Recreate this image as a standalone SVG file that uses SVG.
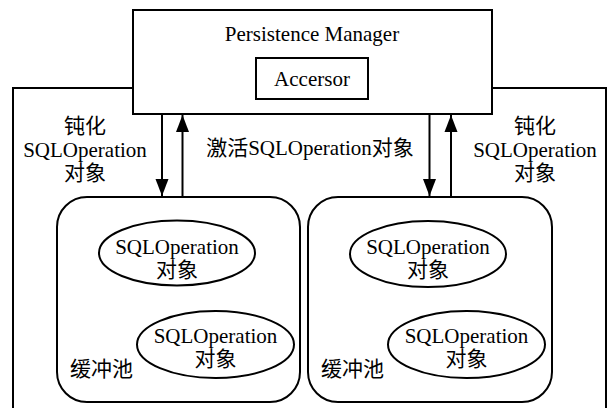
<svg xmlns="http://www.w3.org/2000/svg" width="607" height="408" viewBox="0 0 607 408">
  <style>
    .box { fill: #fff; stroke: #000; stroke-width: 2; }
    .pool { fill: #fff; stroke: #000; stroke-width: 2; }
    .obj { fill: none; stroke: #000; stroke-width: 2; }
    .line { fill: none; stroke: #000; stroke-width: 2; }
    text { font-family: "Liberation Serif", "Noto Sans CJK SC", serif; font-size: 21px; fill: #000; text-anchor: middle; }
    .start { text-anchor: start; }
  </style>
  <defs>
    <marker id="arrow" markerUnits="userSpaceOnUse" markerWidth="17" markerHeight="14" viewBox="0 0 17 14" refX="17" refY="7" orient="auto">
      <path d="M0,0.5 L17,7 L0,13.5 Z"/>
    </marker>
  </defs>

  <!-- enclosing frame -->
  <g id="frame">
    <polyline class="line" points="13,408 13,88 133,88"/>
    <polyline class="line" points="492,88 606,88 606,408"/>
  </g>

  <g id="persistence-manager">
    <rect class="box" x="133" y="10" width="359" height="104"/>
    <text x="312" y="41">Persistence Manager</text>
  </g>

  <g id="accersor">
    <rect class="box" x="256" y="58" width="112" height="41"/>
    <text x="312" y="86">Accersor</text>
  </g>

  <g id="pool-left">
    <rect class="pool" x="57" y="197" width="243" height="205" rx="30" ry="30"/>
    <text class="start" x="70" y="376">缓冲池</text>
  </g>
  <g id="obj-left-1">
    <ellipse class="obj" cx="177" cy="253" rx="78" ry="32.5"/>
    <text x="177" y="254">SQLOperation</text>
    <text x="177" y="277">对象</text>
  </g>
  <g id="obj-left-2">
    <ellipse class="obj" cx="215.5" cy="344.5" rx="78.5" ry="33.5"/>
    <text x="215.5" y="343">SQLOperation</text>
    <text x="215.5" y="366">对象</text>
  </g>

  <g id="pool-right">
    <rect class="pool" x="308" y="197" width="244" height="205" rx="30" ry="30"/>
    <text class="start" x="321" y="376">缓冲池</text>
  </g>
  <g id="obj-right-1">
    <ellipse class="obj" cx="428" cy="254" rx="78" ry="33"/>
    <text x="428" y="254">SQLOperation</text>
    <text x="428" y="277">对象</text>
  </g>
  <g id="obj-right-2">
    <ellipse class="obj" cx="466.5" cy="344.5" rx="78.5" ry="33.5"/>
    <text x="466.5" y="343">SQLOperation</text>
    <text x="466.5" y="366">对象</text>
  </g>

  <!-- connectors between the manager and the pools -->
  <g id="connectors">
    <line class="line" x1="162" y1="114" x2="162" y2="196" marker-end="url(#arrow)"/>
    <line class="line" x1="182.5" y1="197" x2="182.5" y2="115" marker-end="url(#arrow)"/>
    <line class="line" x1="429.5" y1="114" x2="429.5" y2="196" marker-end="url(#arrow)"/>
    <line class="line" x1="451" y1="197" x2="451" y2="115" marker-end="url(#arrow)"/>
  </g>

  <g id="labels">
    <text x="85" y="133">钝化</text>
    <text x="85" y="157">SQLOperation</text>
    <text x="85" y="180">对象</text>
    <text x="310" y="155">激活SQLOperation对象</text>
    <text x="535" y="133">钝化</text>
    <text x="535" y="157">SQLOperation</text>
    <text x="535" y="180">对象</text>
  </g>
</svg>
